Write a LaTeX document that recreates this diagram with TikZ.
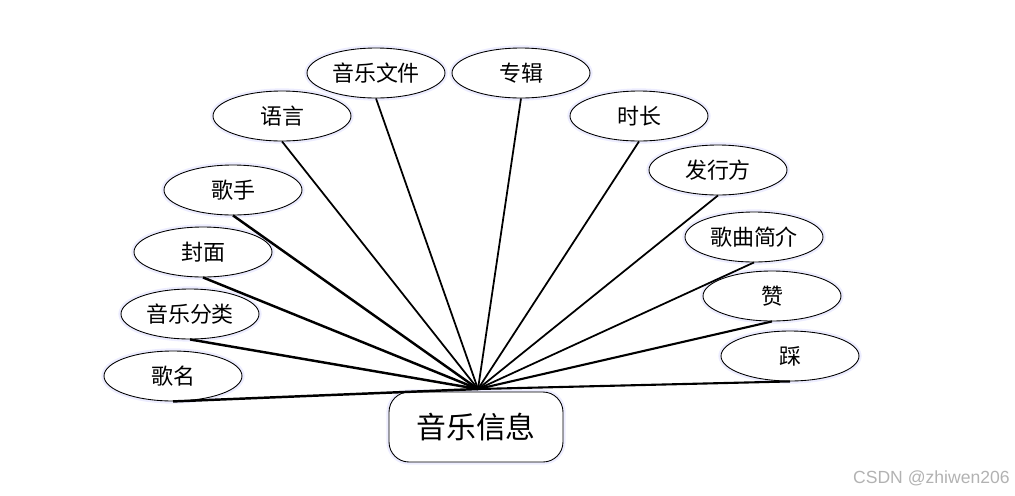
\documentclass[tikz,border=0pt]{standalone}
\usepackage{fontspec}
\newfontfamily\cjk{Noto Sans CJK SC}
\newfontfamily\wmfont{Liberation Sans}
\usetikzlibrary{shapes.geometric}

\tikzset{
  attr/.style={ellipse, draw=black, line width=0.5pt, fill=white,
    minimum width=2.76cm, minimum height=1.0cm, inner sep=0pt,
    preaction={draw=blue!7, line width=3pt},
    font={\cjk\fontsize{12.5}{12.5}\selectfont}},
  entity/.style={rectangle, rounded corners=0.4cm, draw=black, line width=0.5pt,
    fill=white, minimum width=3.48cm, minimum height=1.4cm, inner sep=0pt,
    preaction={draw=blue!7, line width=3pt},
    font={\cjk\fontsize{17}{17}\selectfont}},
  link/.style={draw=black, line width=1pt},
  thicklink/.style={draw=black, line width=1.4pt}
}

\begin{document}
\begin{tikzpicture}[x=0.02cm, y=-0.02cm]

\useasboundingbox (0,0) rectangle (1015,495);

\coordinate (hub) at (478,389);

\node [entity] (music) at (476,427) {音乐信息};

% left side
\node [attr] (name)    at (173,376) {歌名};
\node [attr] (genre)   at (190,314) {音乐分类};
\node [attr] (cover)   at (203,252) {封面};
\node [attr] (singer)  at (233,190) {歌手};
\node [attr] (lang)    at (282,116) {语言};
\node [attr] (file)    at (376,73)  {音乐文件};

% right side
\node [attr] (album)   at (521,73)  {专辑};
\node [attr] (length)  at (639,116) {时长};
\node [attr] (issuer)  at (718,170) {发行方};
\node [attr] (intro)   at (754,237) {歌曲简介};
\node [attr] (like)    at (772,296) {赞};
\node [attr] (dislike) at (790,356) {踩};

\draw [thicklink] (name.south)   -- (hub);
\draw [thicklink] (genre.south)  -- (hub);
\draw [thicklink] (cover.south)  -- (hub);
\draw [thicklink] (singer.south) -- (hub);
\draw [link] (lang.south)   -- (hub);
\draw [link] (file.south)   -- (hub);
\draw [link] (album.south)  -- (hub);
\draw [link] (length.south) -- (hub);
\draw [link] (issuer.south) -- (hub);
\draw [link] (intro.south)  -- (hub);
\draw [link, line width=1.2pt] (like.south)    -- (hub);
\draw [link, line width=1.2pt] (dislike.south) -- (hub);

\node [text=black!30, anchor=east, inner sep=0pt, font={\wmfont\fontsize{10}{10}\selectfont}] (mark) at (1010,478) {CSDN @zhiwen206};

\end{tikzpicture}
\end{document}
